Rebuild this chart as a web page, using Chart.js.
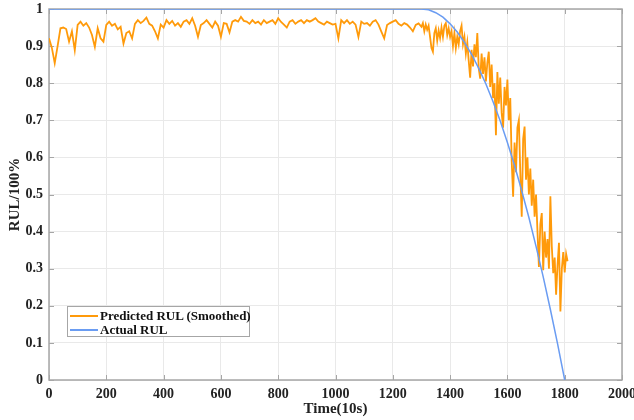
<!DOCTYPE html>
<html>
<head>
<meta charset="utf-8">
<script src="https://cdn.jsdelivr.net/npm/chart.js@4.4.1/dist/chart.umd.min.js"></script>
<style>
  html, body { margin: 0; padding: 0; background: #fff; }
  #wrap { position: relative; width: 634px; height: 420px; }
  #legend {
    position: absolute; left: 67px; top: 306px; width: 183px; height: 31px;
    border: 1px solid #a6a6a6; background: #fff; box-sizing: border-box;
    font: bold 13px "Liberation Serif", "Times New Roman", serif; color: #111;
  }
  #legend .row { position: absolute; left: 0; height: 15px; line-height: 15px; white-space: nowrap; }
  #legend .swatch { position: absolute; left: 2px; top: 7px; width: 28px; height: 0; border-top: 2px solid; }
  #legend .label { position: absolute; left: 32px; top: 0; }
</style>
</head>
<body>
<div id="wrap">
  <canvas id="chart" width="634" height="420"></canvas>
  <div id="legend">
    <div class="row" style="top:1px"><span class="swatch" style="border-color:#ff9a0a"></span><span class="label">Predicted RUL (Smoothed)</span></div>
    <div class="row" style="top:15px"><span class="swatch" style="border-color:#6a9cf2"></span><span class="label">Actual RUL</span></div>
  </div>
</div>
<script>
// ---------- data ----------
// predicted RUL, flat part (step 10)
const predTimeA = [0,10,20,30,40,50,60,70,80,90,100,110,120,130,140,150,160,170,180,190,
  200,210,220,230,240,250,260,270,280,290,300,310,320,330,340,350,360,370,380,390,
  400,410,420,430,440,450,460,470,480,490,500,510,520,530,540,550,560,570,580,590,
  600,610,620,630,640,650,660,670,680,690,700,710,720,730,740,750,760,770,780,790,
  800,810,820,830,840,850,860,870,880,890,900,910,920,930,940,950,960,970,980,990,
  1000,1010,1020,1030,1040,1050,1060,1070,1080,1090,1100,1110,1120,1130,1140,1150,1160,1170,1180,1190,
  1200,1210,1220,1230,1240,1250,1260,1270,1280,1290];
const predValA = [0.921,0.895,0.854,0.900,0.948,0.950,0.946,0.912,0.940,0.889,0.957,0.966,0.955,0.962,0.950,0.930,0.898,0.948,0.921,0.912,
  0.957,0.966,0.955,0.960,0.945,0.952,0.907,0.935,0.940,0.921,0.960,0.970,0.962,0.968,0.977,0.960,0.955,0.940,0.921,0.958,
  0.950,0.970,0.960,0.968,0.955,0.962,0.952,0.966,0.970,0.960,0.975,0.955,0.925,0.957,0.962,0.970,0.960,0.950,0.966,0.955,
  0.925,0.962,0.960,0.937,0.966,0.970,0.966,0.979,0.968,0.966,0.960,0.970,0.962,0.966,0.958,0.970,0.962,0.966,0.970,0.960,
  0.975,0.965,0.958,0.950,0.966,0.970,0.960,0.966,0.970,0.962,0.970,0.966,0.970,0.975,0.966,0.962,0.958,0.966,0.962,0.958,
  0.960,0.921,0.970,0.962,0.970,0.960,0.966,0.958,0.925,0.966,0.960,0.962,0.955,0.966,0.970,0.958,0.939,0.921,0.957,0.962,
  0.966,0.970,0.960,0.955,0.962,0.958,0.950,0.940,0.957,0.961];
// predicted RUL, degradation part (step 5)
const predTimeB = [1300,1305,1310,1315,1320,1325,1330,1335,1340,1345,1350,1355,1360,1365,1370,1375,1380,1385,1390,1395,
  1400,1405,1410,1415,1420,1425,1430,1435,1440,1445,1450,1455,1460,1465,1470,1475,1480,1485,1490,1495,
  1500,1505,1510,1515,1520,1525,1530,1535,1540,1545,1550,1555,1560,1565,1570,1575,1580,1585,1590,1595,
  1600,1605,1610,1615,1620,1625,1630,1635,1640,1645,1650,1655,1660,1665,1670,1675,1680,1685,1690,1695,
  1700,1705,1710,1715,1720,1725,1730,1735,1740,1745,1750,1755,1760,1765,1770,1775,1780,1785,1790,1795,
  1800,1805,1810];
const predValB = [0.952,0.962,0.940,0.958,0.944,0.955,0.925,0.895,0.885,0.935,0.948,0.915,0.942,0.922,0.950,0.925,0.955,0.962,0.930,0.948,
  0.925,0.940,0.900,0.935,0.895,0.925,0.905,0.940,0.955,0.905,0.925,0.880,0.910,0.860,0.815,0.890,0.845,0.905,0.870,0.935,
  0.840,0.812,0.880,0.825,0.870,0.805,0.855,0.885,0.790,0.850,0.760,0.800,0.660,0.830,0.745,0.815,0.720,0.680,0.790,0.740,
  0.810,0.700,0.760,0.590,0.494,0.640,0.560,0.680,0.700,0.560,0.440,0.650,0.683,0.540,0.600,0.500,0.570,0.470,0.540,0.440,
  0.500,0.400,0.305,0.420,0.450,0.296,0.400,0.330,0.380,0.300,0.495,0.360,0.288,0.330,0.230,0.310,0.370,0.185,0.300,0.345,
  0.290,0.340,0.320];
// actual RUL
const actualTime = [0,1300,1325,1350,1375,1400,1425,1450,1475,1500,1525,1550,1575,1600,1625,1650,1675,1700,1725,1750,1775,1800];
const actualVal  = [1.00,1.00,0.998,0.99,0.978,0.96,0.938,0.91,0.878,0.84,0.798,0.75,0.698,0.64,0.578,0.51,0.438,0.36,0.278,0.19,0.098,0];

const xTicks = [0,200,400,600,800,1000,1200,1400,1600,1800,2000];
const yTicks = [0,0.1,0.2,0.3,0.4,0.5,0.6,0.7,0.8,0.9,1];

const predTime = predTimeA.concat(predTimeB);
const predVal = predValA.concat(predValB);

const serif = '"Liberation Serif", "Times New Roman", serif';
const axisGrey = '#a6a6a6';

// box + inward ticks, MATLAB style
const boxPlugin = {
  id: 'box',
  beforeDatasetsDraw(chart) {
    const { ctx, chartArea: a, scales } = chart;
    ctx.save();
    ctx.strokeStyle = axisGrey;
    ctx.lineWidth = 1;
    ctx.beginPath();
    xTicks.forEach(v => {
      const px = Math.round(scales.x.getPixelForValue(v)) + 0.5;
      ctx.moveTo(px, a.bottom); ctx.lineTo(px, a.bottom - 5);
      ctx.moveTo(px, a.top); ctx.lineTo(px, a.top + 5);
    });
    yTicks.forEach(v => {
      const py = Math.round(scales.y.getPixelForValue(v)) + 0.5;
      ctx.moveTo(a.left, py); ctx.lineTo(a.left + 5, py);
      ctx.moveTo(a.right, py); ctx.lineTo(a.right - 5, py);
    });
    ctx.stroke();
    ctx.lineWidth = 1.5;
    ctx.strokeRect(a.left, a.top, a.right - a.left, a.bottom - a.top);
    ctx.restore();
  }
};

new Chart(document.getElementById('chart'), {
  type: 'line',
  data: {
    datasets: [
      {
        label: 'Predicted RUL (Smoothed)',
        data: predTime.map((t, i) => ({ x: t, y: predVal[i] })),
        borderColor: '#ff9a0a',
        borderWidth: 1.8,
        pointRadius: 0,
        tension: 0,
        order: 1
      },
      {
        label: 'Actual RUL',
        data: actualTime.map((t, i) => ({ x: t, y: actualVal[i] })),
        borderColor: '#6a9cf2',
        borderWidth: 1.5,
        pointRadius: 0,
        tension: 0,
        order: 0
      }
    ]
  },
  options: {
    responsive: false,
    animation: false,
    layout: { padding: { left: 0, right: 12, top: 9, bottom: 0 } },
    plugins: { legend: { display: false }, tooltip: { enabled: false } },
    scales: {
      x: {
        type: 'linear',
        min: 0, max: 2000,
        afterBuildTicks: s => { s.ticks = xTicks.map(v => ({ value: v })); },
        afterFit: s => { s.height = 40; s.paddingLeft = 0; s.paddingRight = 0; },
        grid: { color: '#e9e9e9', drawTicks: false },
        border: { display: false },
        ticks: { padding: 6, maxRotation: 0, autoSkip: false, color: '#222', font: { family: serif, size: 14, weight: 'bold' }, callback: v => String(v) },
        title: { display: true, text: 'Time(10s)', color: '#222', padding: { top: 0, bottom: 2 }, font: { family: serif, size: 15, weight: 'bold' } }
      },
      y: {
        min: 0, max: 1,
        afterBuildTicks: s => { s.ticks = yTicks.map(v => ({ value: v })); },
        afterFit: s => { s.width = 49; s.paddingTop = 0; s.paddingBottom = 0; },
        grid: { color: '#e9e9e9', drawTicks: false },
        border: { display: false },
        ticks: { padding: 6, color: '#222', font: { family: serif, size: 14, weight: 'bold' }, callback: v => String(Math.round(v * 10) / 10) },
        title: { display: true, text: 'RUL/100%', color: '#222', padding: { top: 6, bottom: 0 }, font: { family: serif, size: 15, weight: 'bold' } }
      }
    }
  },
  plugins: [boxPlugin]
});
</script>
</body>
</html>
